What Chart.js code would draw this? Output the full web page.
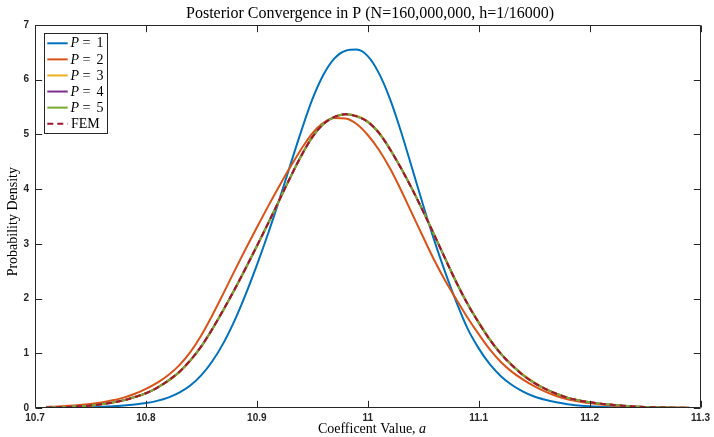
<!DOCTYPE html>
<html>
<head>
<meta charset="utf-8">
<script src="https://cdn.jsdelivr.net/npm/chart.js@4.4.1/dist/chart.umd.min.js"></script>
<style>
  html, body { margin: 0; padding: 0; background: #fff; }
  canvas { display: block; }
</style>
</head>
<body>
<canvas id="chart" width="714" height="437"></canvas>
<script>
// coefficient values (x)
const aValues = [10.71, 10.72, 10.73, 10.74, 10.75, 10.76, 10.77, 10.78, 10.79, 10.80,
  10.81, 10.82, 10.83, 10.84, 10.85, 10.86, 10.87, 10.88, 10.89, 10.90,
  10.91, 10.92, 10.93, 10.94, 10.95, 10.96, 10.97, 10.98, 10.99, 11.00,
  11.01, 11.02, 11.03, 11.04, 11.05, 11.06, 11.07, 11.08, 11.09, 11.10,
  11.11, 11.12, 11.13, 11.14, 11.15, 11.16, 11.17, 11.18, 11.19, 11.20,
  11.21, 11.22, 11.23, 11.24, 11.25, 11.26, 11.27, 11.28, 11.29];

// probability densities
const p1 = [0.001, 0.002, 0.004, 0.007, 0.012, 0.02, 0.03, 0.045, 0.065, 0.09,
  0.13, 0.19, 0.28, 0.41, 0.60, 0.86, 1.19, 1.60, 2.08, 2.61,
  3.18, 3.79, 4.43, 5.06, 5.64, 6.09, 6.39, 6.53, 6.55, 6.43,
  6.12, 5.65, 5.05, 4.38, 3.70, 3.06, 2.47, 1.93, 1.45, 1.09,
  0.80, 0.58, 0.42, 0.30, 0.21, 0.15, 0.105, 0.07, 0.047, 0.03,
  0.02, 0.012, 0.007, 0.004, 0.002, 0.001, 0.0005, 0.0002, 0.0001];

const p2 = [0.02, 0.028, 0.04, 0.055, 0.075, 0.10, 0.14, 0.19, 0.26, 0.35,
  0.46, 0.60, 0.78, 1.02, 1.33, 1.70, 2.10, 2.51, 2.91, 3.30,
  3.68, 4.05, 4.40, 4.73, 5.02, 5.21, 5.30, 5.29, 5.19, 4.99,
  4.72, 4.38, 3.98, 3.55, 3.12, 2.70, 2.32, 1.98, 1.65, 1.35,
  1.07, 0.84, 0.66, 0.52, 0.40, 0.30, 0.22, 0.16, 0.12, 0.09,
  0.065, 0.045, 0.03, 0.02, 0.013, 0.008, 0.005, 0.003, 0.002];

const p3 = [0.01, 0.015, 0.02, 0.03, 0.045, 0.068, 0.098, 0.14, 0.20, 0.27,
  0.37, 0.49, 0.65, 0.86, 1.12, 1.44, 1.79, 2.16, 2.55, 2.95,
  3.36, 3.78, 4.20, 4.60, 4.95, 5.19, 5.32, 5.37, 5.34, 5.24,
  5.04, 4.74, 4.39, 4.01, 3.60, 3.17, 2.73, 2.30, 1.91, 1.57,
  1.26, 1.00, 0.79, 0.61, 0.47, 0.35, 0.26, 0.19, 0.14, 0.105,
  0.08, 0.058, 0.04, 0.027, 0.018, 0.012, 0.008, 0.005, 0.003];

const p4 = [0.01, 0.015, 0.02, 0.03, 0.045, 0.07, 0.10, 0.14, 0.20, 0.27,
  0.37, 0.50, 0.66, 0.87, 1.13, 1.45, 1.80, 2.17, 2.56, 2.96,
  3.37, 3.79, 4.21, 4.61, 4.95, 5.19, 5.32, 5.37, 5.33, 5.23,
  5.03, 4.73, 4.38, 4.00, 3.59, 3.16, 2.72, 2.29, 1.90, 1.56,
  1.25, 0.99, 0.78, 0.60, 0.46, 0.35, 0.26, 0.19, 0.14, 0.105,
  0.08, 0.058, 0.04, 0.027, 0.018, 0.012, 0.008, 0.005, 0.003];

const p5 = [0.01, 0.015, 0.02, 0.03, 0.045, 0.07, 0.10, 0.14, 0.20, 0.27,
  0.37, 0.50, 0.66, 0.87, 1.13, 1.45, 1.80, 2.17, 2.56, 2.96,
  3.37, 3.79, 4.21, 4.61, 4.95, 5.19, 5.32, 5.37, 5.33, 5.23,
  5.03, 4.73, 4.38, 4.00, 3.59, 3.16, 2.72, 2.29, 1.90, 1.56,
  1.25, 0.99, 0.78, 0.60, 0.46, 0.35, 0.26, 0.19, 0.14, 0.105,
  0.08, 0.058, 0.04, 0.027, 0.018, 0.012, 0.008, 0.005, 0.003];

const fem = [0.01, 0.015, 0.02, 0.03, 0.045, 0.07, 0.10, 0.14, 0.20, 0.27,
  0.37, 0.50, 0.66, 0.87, 1.13, 1.45, 1.80, 2.17, 2.56, 2.96,
  3.37, 3.79, 4.21, 4.61, 4.95, 5.19, 5.32, 5.37, 5.33, 5.23,
  5.03, 4.73, 4.38, 4.00, 3.59, 3.16, 2.72, 2.29, 1.90, 1.56,
  1.25, 0.99, 0.78, 0.60, 0.46, 0.35, 0.26, 0.19, 0.14, 0.105,
  0.08, 0.058, 0.04, 0.027, 0.018, 0.012, 0.008, 0.005, 0.003];

const seriesNames = ["P = 1", "P = 2", "P = 3", "P = 4", "P = 5", "FEM"];
const seriesColors = ["#0072BD", "#D95319", "#EDB120", "#7E2F8E", "#77AC30", "#A2142F"];

const xTicks = [10.7, 10.8, 10.9, 11, 11.1, 11.2, 11.3];
const xTickLabels = ["10.7", "10.8", "10.9", "11", "11.1", "11.2", "11.3"];
const yTicks = [0, 1, 2, 3, 4, 5, 6, 7];
const yTickLabels = ["0", "1", "2", "3", "4", "5", "6", "7"];

const titleText = "Posterior Convergence in P (N=160,000,000, h=1/16000)";
const xTitleText = "Coefficent Value, ";
const yTitleText = "Probability Density";

const AXIS = "#262626";
const SERIF = "'Liberation Serif', 'DejaVu Serif', serif";
const TICKFONT = { family: "'Liberation Sans', Arial, sans-serif", size: 10, weight: "bold" };

function pts(ys) {
  return aValues.map((a, i) => ({ x: a, y: ys[i] }));
}

const allSeries = [p1, p2, p3, p4, p5, fem];
const datasets = allSeries.map((ys, i) => ({
  label: seriesNames[i],
  data: pts(ys),
  borderColor: seriesColors[i],
  borderWidth: 2,
  borderDash: i === 5 ? [6, 4] : [],
  pointRadius: 0,
  fill: false,
  cubicInterpolationMode: "monotone",
  order: 5 - i, // FEM drawn last, on top
}));

// box, inward ticks, legend and titles (MATLAB look)
const matlabFrame = {
  id: "matlabFrame",
  afterDraw(chart) {
    const ctx = chart.ctx;
    const area = chart.chartArea;
    const xs = chart.scales.x, ys = chart.scales.y;
    const L = Math.round(area.left) + 0.5, R = Math.round(area.right) - 0.5;
    const T = Math.round(area.top) + 0.5, B = Math.round(area.bottom) - 0.5;
    const tl = 6.7;

    ctx.save();
    ctx.strokeStyle = AXIS;
    ctx.lineWidth = 1;
    ctx.beginPath();
    ctx.rect(L, T, R - L, B - T);
    xTicks.forEach(v => {
      const px = Math.round(xs.getPixelForValue(v)) + 0.5;
      ctx.moveTo(px, B); ctx.lineTo(px, B - tl);
      ctx.moveTo(px, T); ctx.lineTo(px, T + tl);
    });
    yTicks.forEach(v => {
      const py = Math.round(ys.getPixelForValue(v)) + 0.5;
      ctx.moveTo(L, py); ctx.lineTo(L + tl, py);
      ctx.moveTo(R, py); ctx.lineTo(R - tl, py);
    });
    ctx.stroke();

    // legend
    const lx = 44.5, ly = 33.5, lw = 63, lh = 100;
    ctx.fillStyle = "#fff";
    ctx.fillRect(lx, ly, lw, lh);
    ctx.strokeRect(lx, ly, lw, lh);
    seriesNames.forEach((name, i) => {
      const cy = 43.3 + i * 16.08;
      ctx.beginPath();
      ctx.strokeStyle = seriesColors[i];
      ctx.lineWidth = 2;
      ctx.setLineDash(i === 5 ? [6, 4] : []);
      ctx.moveTo(47.3, cy); ctx.lineTo(67.7, cy);
      ctx.stroke();
      ctx.setLineDash([]);
      ctx.fillStyle = "#000";
      ctx.textBaseline = "middle";
      ctx.textAlign = "left";
      if (name.startsWith("P")) {
        ctx.font = "italic 14px " + SERIF;
        ctx.fillText("P", 70.5, cy + 0.5);
        ctx.font = "14px " + SERIF;
        ctx.fillText("=", 82.5, cy + 0.5);
        ctx.fillText(name.split("= ")[1], 96.5, cy + 0.5);
      } else {
        ctx.font = "14px " + SERIF;
        ctx.fillText(name, 71, cy + 0.5);
      }
    });

    // titles
    ctx.fillStyle = "#000";
    ctx.textBaseline = "alphabetic";
    ctx.textAlign = "center";
    ctx.font = "16px " + SERIF;
    ctx.fillText(titleText, 370, 17.5);

    ctx.font = "14px " + SERIF;
    const w1 = ctx.measureText(xTitleText).width;
    ctx.font = "italic 14px " + SERIF;
    const w2 = ctx.measureText("a").width;
    const x0 = 372 - (w1 + w2) / 2;
    ctx.textAlign = "left";
    ctx.font = "14px " + SERIF;
    ctx.fillText(xTitleText, x0, 432.5);
    ctx.font = "italic 14px " + SERIF;
    ctx.fillText("a", x0 + w1, 432.5);

    ctx.translate(17, 221.7);
    ctx.rotate(-Math.PI / 2);
    ctx.textAlign = "center";
    ctx.font = "14px " + SERIF;
    ctx.fillText(yTitleText, 0, 0);
    ctx.restore();
  },
};

new Chart(document.getElementById("chart"), {
  type: "line",
  data: { datasets: datasets },
  options: {
    responsive: false,
    animation: false,
    events: [],
    layout: { autoPadding: false, padding: { left: 0, top: 25, right: 9, bottom: 0 } },
    plugins: { legend: { display: false }, tooltip: { enabled: false }, title: { display: false } },
    scales: {
      x: {
        type: "linear",
        min: 10.7,
        max: 11.3,
        grid: { display: false, drawTicks: false },
        border: { display: false },
        afterBuildTicks: (s) => { s.ticks = xTicks.map(v => ({ value: v })); },
        afterFit: (s) => { s.height = 29; },
        ticks: {
          padding: 4,
          color: AXIS,
          font: TICKFONT,
          maxRotation: 0,
          autoSkip: false,
          callback: (v) => xTickLabels[xTicks.findIndex(t => Math.abs(t - v) < 1e-9)],
        },
      },
      y: {
        min: 0,
        max: 7,
        grid: { display: false, drawTicks: false },
        border: { display: false },
        afterBuildTicks: (s) => { s.ticks = yTicks.map(v => ({ value: v })); },
        afterFit: (s) => { s.width = 35; },
        ticks: {
          padding: 6,
          color: AXIS,
          font: TICKFONT,
          autoSkip: false,
          callback: (v) => yTickLabels[yTicks.indexOf(v)],
        },
      },
    },
  },
  plugins: [matlabFrame],
});
</script>
</body>
</html>
